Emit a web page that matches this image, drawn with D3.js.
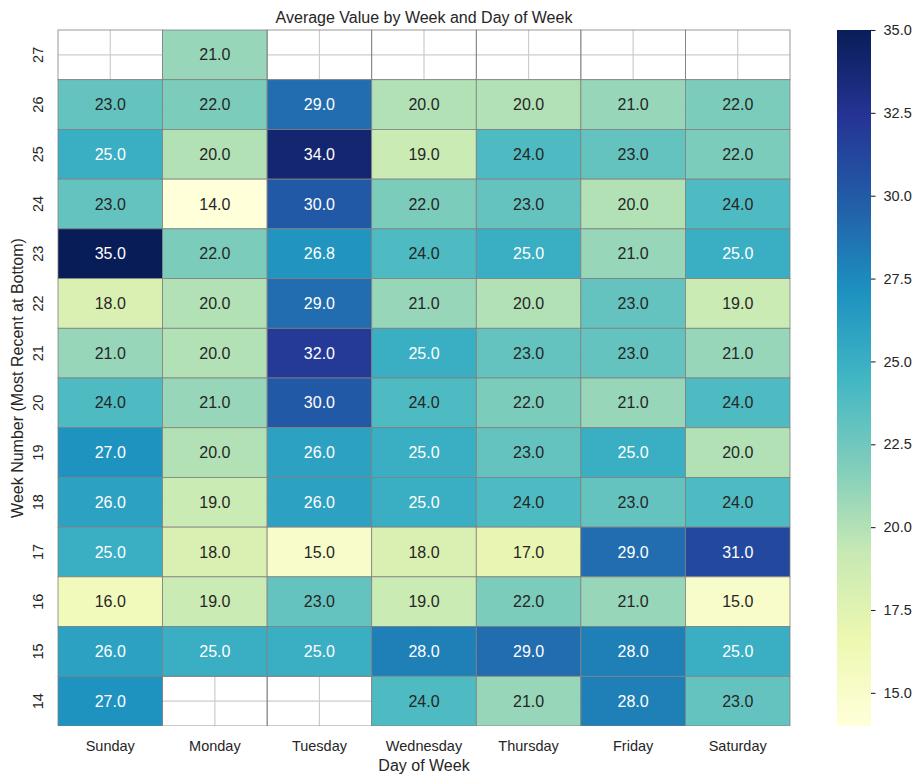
<!DOCTYPE html>
<html>
<head>
<meta charset="utf-8">
<script src="https://cdn.jsdelivr.net/npm/d3@7"></script>
<style>
  body { margin: 0; background: #fff; }
  text { font-family: "Liberation Sans", Arial, "DejaVu Sans", sans-serif; fill: #262626; }
</style>
</head>
<body>
<div id="heatmap"></div>
<script>
// Data (rows: most recent week at bottom)
const days = ["Sunday", "Monday", "Tuesday", "Wednesday", "Thursday", "Friday", "Saturday"];
const weeks = [27, 26, 25, 24, 23, 22, 21, 20, 19, 18, 17, 16, 15, 14];
const values = [
  [null, 21, null, null, null, null, null],
  [23, 22, 29, 20, 20, 21, 22],
  [25, 20, 34, 19, 24, 23, 22],
  [23, 14, 30, 22, 23, 20, 24],
  [35, 22, 26.8, 24, 25, 21, 25],
  [18, 20, 29, 21, 20, 23, 19],
  [21, 20, 32, 25, 23, 23, 21],
  [24, 21, 30, 24, 22, 21, 24],
  [27, 20, 26, 25, 23, 25, 20],
  [26, 19, 26, 25, 24, 23, 24],
  [25, 18, 15, 18, 17, 29, 31],
  [16, 19, 23, 19, 22, 21, 15],
  [26, 25, 25, 28, 29, 28, 25],
  [27, null, null, 24, 21, 28, 23]
];
const colorTicks = [15, 17.5, 20, 22.5, 25, 27.5, 30, 32.5, 35];
const vmin = 14, vmax = 35;

// YlGnBu, piecewise linear like matplotlib
const ylgnbu = ["#ffffd9","#edf8b1","#c7e9b4","#7fcdbb","#41b6c4","#1d91c0","#225ea8","#253494","#081d58"];

const width = 924, height = 784;
const margin = { top: 30, right: 134, bottom: 58, left: 58 };
const plotW = width - margin.left - margin.right;   // 732
const plotH = height - margin.top - margin.bottom;  // 696

const svg = d3.select("#heatmap")
  .append("svg")
  .attr("width", width)
  .attr("height", height);

const g = svg.append("g")
  .attr("transform", "translate(" + margin.left + "," + margin.top + ")");

const x = d3.scaleBand().domain(days).range([0, plotW]);
const y = d3.scaleBand().domain(weeks).range([0, plotH]);

const cmap = d3.scaleLinear()
  .domain(d3.range(ylgnbu.length).map(i => i / (ylgnbu.length - 1)))
  .range(ylgnbu)
  .interpolate(d3.interpolateRgb)
  .clamp(true);

// 256-entry lookup like matplotlib colormaps
function color(v) {
  let idx = Math.floor((v - vmin) / (vmax - vmin) * 256);
  idx = Math.max(0, Math.min(255, idx));
  return cmap(idx / 255);
}

// grid lines (whitegrid style) visible in empty cells
g.append("g").selectAll("line.vg")
  .data(days).enter().append("line")
  .attr("x1", d => x(d) + x.bandwidth() / 2)
  .attr("x2", d => x(d) + x.bandwidth() / 2)
  .attr("y1", 0).attr("y2", plotH)
  .attr("stroke", "#cccccc").attr("stroke-width", 1.2);
g.append("g").selectAll("line.hg")
  .data(weeks).enter().append("line")
  .attr("y1", d => y(d) + y.bandwidth() / 2)
  .attr("y2", d => y(d) + y.bandwidth() / 2)
  .attr("x1", 0).attr("x2", plotW)
  .attr("stroke", "#cccccc").attr("stroke-width", 1.2);

// flatten cells
const cells = [];
weeks.forEach((w, i) => {
  days.forEach((d, j) => {
    cells.push({ week: w, day: d, value: values[i][j] });
  });
});

g.append("defs").append("clipPath").attr("id", "plotclip")
  .append("rect").attr("x", -1).attr("y", -1).attr("width", plotW + 2).attr("height", plotH + 1);

g.append("g")
  .attr("clip-path", "url(#plotclip)")
  .selectAll("rect")
  .data(cells)
  .enter()
  .append("rect")
    .attr("x", d => x(d.day))
    .attr("y", d => y(d.week))
    .attr("width", x.bandwidth())
    .attr("height", y.bandwidth())
    .attr("fill", d => d.value == null ? "none" : color(d.value))
    .attr("stroke", "gray")
    .attr("stroke-width", 0.8);

// annotation text colour like seaborn (luminance based)
function luminance(c) {
  const rgb = d3.rgb(c);
  const lin = [rgb.r, rgb.g, rgb.b].map(v => {
    v = v / 255;
    return v <= 0.03928 ? v / 12.92 : Math.pow((v + 0.055) / 1.055, 2.4);
  });
  return 0.2126 * lin[0] + 0.7152 * lin[1] + 0.0722 * lin[2];
}

g.append("g").selectAll("text")
  .data(cells.filter(d => d.value != null))
  .enter()
  .append("text")
    .attr("x", d => x(d.day) + x.bandwidth() / 2)
    .attr("y", d => y(d.week) + y.bandwidth() / 2)
    .attr("text-anchor", "middle")
    .attr("dy", "0.35em")
    .style("font-size", "16px")
    .style("fill", d => luminance(color(d.value)) > 0.408 ? "#262626" : "#ffffff")
    .text(d => d3.format(".1f")(d.value));

// x tick labels
g.append("g").selectAll("text")
  .data(days).enter().append("text")
  .attr("x", d => x(d) + x.bandwidth() / 2)
  .attr("y", plotH + 20)
  .attr("text-anchor", "middle")
  .attr("dy", "0.35em")
  .style("font-size", "14.5px")
  .text(d => d);

// y tick labels (rotated)
g.append("g").selectAll("text")
  .data(weeks).enter().append("text")
  .attr("transform", d => "translate(-20," + (y(d) + y.bandwidth() / 2) + ") rotate(-90)")
  .attr("text-anchor", "middle")
  .attr("dy", "0.35em")
  .style("font-size", "14.5px")
  .text(d => d);

// axis labels
g.append("text")
  .attr("x", plotW / 2)
  .attr("y", plotH + 39)
  .attr("text-anchor", "middle")
  .attr("dy", "0.35em")
  .style("font-size", "16px")
  .text("Day of Week");

g.append("text")
  .attr("transform", "translate(-41," + (plotH / 2) + ") rotate(-90)")
  .attr("text-anchor", "middle")
  .attr("dy", "0.35em")
  .style("font-size", "16px")
  .text("Week Number (Most Recent at Bottom)");

// title
g.append("text")
  .attr("x", plotW / 2)
  .attr("y", -13)
  .attr("text-anchor", "middle")
  .attr("dy", "0.35em")
  .style("font-size", "16px")
  .text("Average Value by Week and Day of Week");

// colorbar
const cbX = 837, cbW = 34;
const cb = svg.append("g").attr("transform", "translate(" + cbX + "," + margin.top + ")");
const cbScale = d3.scaleLinear().domain([vmin, vmax]).range([plotH, 0]);

const grad = svg.append("defs").append("linearGradient")
  .attr("id", "cbgrad")
  .attr("x1", "0%").attr("y1", "100%")
  .attr("x2", "0%").attr("y2", "0%");
grad.selectAll("stop")
  .data(ylgnbu).enter().append("stop")
  .attr("offset", (d, i) => (i / (ylgnbu.length - 1) * 100) + "%")
  .attr("stop-color", d => d);

cb.append("rect")
  .attr("width", cbW)
  .attr("height", plotH)
  .attr("fill", "url(#cbgrad)");

const cbAxis = cb.append("g")
  .attr("transform", "translate(" + cbW + ",0)")
  .call(d3.axisRight(cbScale).tickValues(colorTicks).tickFormat(d3.format(".1f")).tickSize(4.5).tickPadding(8));
cbAxis.select(".domain").remove();
cbAxis.selectAll("line").attr("stroke", "#262626").attr("stroke-width", 1.1);
cbAxis.selectAll("text")
  .style("font-size", "14.5px")
  .style("font-family", "'Liberation Sans', Arial, sans-serif")
  .attr("fill", "#262626");
</script>
</body>
</html>
